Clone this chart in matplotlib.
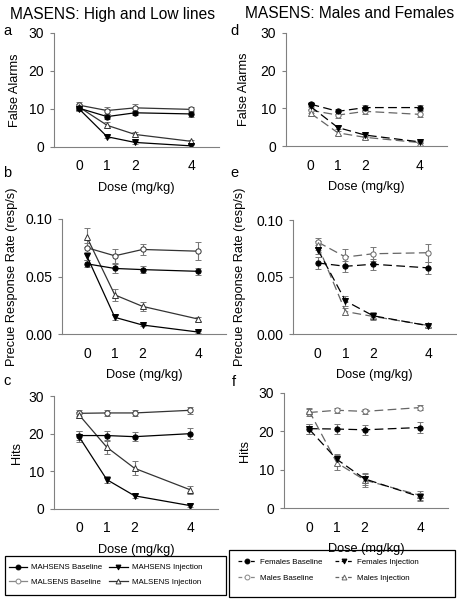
import matplotlib
matplotlib.use("Agg")
import matplotlib.pyplot as plt
from matplotlib.lines import Line2D
from matplotlib.patches import Rectangle

plt.rcParams['font.family'] = ['Liberation Sans', 'DejaVu Sans']

dose = [0, 1, 2, 4]

# left column: high and low lines
fa_hi_base = [10.2, 8.0, 9.0, 8.7]
fa_hi_inj = [10.0, 2.7, 1.2, 0.3]
fa_lo_base = [11.0, 9.6, 10.3, 9.9]
fa_lo_inj = [10.5, 5.7, 3.3, 1.5]
fa_hi_base_err = [0.6, 0.7, 0.6, 0.7]
fa_hi_inj_err = [0.6, 0.4, 0.3, 0.2]
fa_lo_base_err = [0.8, 0.8, 0.9, 0.7]
fa_lo_inj_err = [0.7, 0.8, 0.6, 0.4]

pr_hi_base = [0.061, 0.057, 0.056, 0.0545]
pr_hi_inj = [0.0675, 0.0145, 0.0078, 0.0017]
pr_lo_base = [0.075, 0.068, 0.0735, 0.072]
pr_lo_inj = [0.084, 0.034, 0.024, 0.013]
pr_hi_base_err = [0.003, 0.004, 0.003, 0.003]
pr_hi_inj_err = [0.003, 0.002, 0.001, 0.001]
pr_lo_base_err = [0.004, 0.006, 0.005, 0.008]
pr_lo_inj_err = [0.008, 0.005, 0.004, 0.002]

hit_hi_base = [19.5, 19.5, 19.2, 20.0]
hit_hi_inj = [19.2, 7.8, 3.5, 0.9]
hit_lo_base = [25.4, 25.5, 25.5, 26.2]
hit_lo_inj = [25.0, 16.4, 10.8, 5.1]
hit_hi_base_err = [1.3, 1.3, 1.2, 1.4]
hit_hi_inj_err = [1.4, 1.0, 0.6, 0.4]
hit_lo_base_err = [0.8, 0.9, 0.8, 0.9]
hit_lo_inj_err = [0.8, 1.7, 1.9, 1.0]

# right column: males and females
fa_f_base = [11.1, 9.2, 10.2, 10.2]
fa_f_inj = [10.5, 4.9, 2.9, 1.1]
fa_m_base = [9.5, 8.2, 9.2, 8.4]
fa_m_inj = [8.7, 3.5, 2.3, 0.9]
fa_f_base_err = [0.6, 0.6, 0.6, 0.7]
fa_f_inj_err = [0.6, 0.5, 0.4, 0.2]
fa_m_base_err = [0.8, 0.8, 0.8, 0.8]
fa_m_inj_err = [0.8, 0.6, 0.4, 0.2]

pr_f_base = [0.0623, 0.0594, 0.0612, 0.058]
pr_f_inj = [0.0739, 0.029, 0.016, 0.0072]
pr_m_base = [0.0806, 0.0675, 0.0704, 0.0713]
pr_m_inj = [0.0777, 0.0197, 0.0154, 0.0075]
pr_f_base_err = [0.005, 0.005, 0.005, 0.005]
pr_f_inj_err = [0.004, 0.004, 0.003, 0.001]
pr_m_base_err = [0.004, 0.007, 0.006, 0.008]
pr_m_inj_err = [0.004, 0.003, 0.003, 0.001]

hit_f_base = [20.7, 20.6, 20.4, 21.0]
hit_f_inj = [20.6, 12.7, 7.6, 2.9]
hit_m_base = [24.9, 25.5, 25.2, 26.2]
hit_m_inj = [25.4, 11.8, 7.3, 3.3]
hit_f_base_err = [1.3, 1.3, 1.3, 1.5]
hit_f_inj_err = [1.3, 1.5, 1.5, 1.0]
hit_m_base_err = [0.8, 0.7, 0.7, 0.7]
hit_m_inj_err = [0.8, 1.9, 1.7, 1.2]

W, H = 457, 600
fig = plt.figure(figsize=(W / 100, H / 100), dpi=100)


def add_ax(left, right, top, bottom):
    ax = fig.add_axes([left / W, 1 - bottom / H, (right - left) / W, (bottom - top) / H])
    ax._px = (left, right, top, bottom)
    return ax


def style(ax, ylim, yticks, yfmt, ylabel, ylab_x):
    left, right, top, bottom = ax._px
    ax.set_xlim(-0.9, 5.0)
    ax.set_ylim(*ylim)
    ax.set_xticks(dose)
    ax.set_yticks(yticks)
    ax.set_yticklabels([yfmt.format(v) for v in yticks])
    for s in ['top', 'right']:
        ax.spines[s].set_visible(False)
    for s in ['left', 'bottom']:
        ax.spines[s].set_color('#808080')
        ax.spines[s].set_linewidth(0.8)
    ax.tick_params(axis='x', length=0, labelsize=10, pad=9)
    ax.tick_params(axis='y', length=3, color='#808080', labelsize=10, pad=4)
    ax.set_xlabel('Dose (mg/kg)', fontsize=9.2, labelpad=6)
    ax.set_ylabel(ylabel, fontsize=9.2)
    ax.yaxis.set_label_coords((ylab_x - left) / (right - left), 0.5)
    ax.patch.set_visible(False)


def series_l(ax, y, err, marker, filled, color):
    face = color if filled else 'white'
    ax.errorbar(dose, y, yerr=err, color=color, ls='-', lw=0.9, marker=marker,
                ms=3.8, mfc=face, mec=color, mew=0.7, ecolor='#777777',
                elinewidth=0.8, capsize=2.2, capthick=0.8)


def series_r(ax, y, err, marker, filled, color):
    face = color if filled else 'white'
    ax.errorbar(dose, y, yerr=err, color=color, ls=(0, (7, 3.5)), lw=0.9, marker=marker,
                ms=3.8, mfc=face, mec=color, mew=0.7, ecolor='#777777',
                elinewidth=0.8, capsize=2.2, capthick=0.8)


dark = 'black'
grey = '#666666'
lo = '#333333'

# panel a
ax = add_ax(54, 219, 33, 147)
series_l(ax, fa_lo_base, fa_lo_base_err, 'o', False, lo)
series_l(ax, fa_lo_inj, fa_lo_inj_err, '^', False, lo)
series_l(ax, fa_hi_base, fa_hi_base_err, 'o', True, dark)
series_l(ax, fa_hi_inj, fa_hi_inj_err, 'v', True, dark)
style(ax, (0, 30), [0, 10, 20, 30], '{:.0f}', 'False Alarms', 21)

# panel b
ax = add_ax(62, 226, 219, 334)
series_l(ax, pr_lo_base, pr_lo_base_err, 'o', False, lo)
series_l(ax, pr_lo_inj, pr_lo_inj_err, '^', False, lo)
series_l(ax, pr_hi_base, pr_hi_base_err, 'o', True, dark)
series_l(ax, pr_hi_inj, pr_hi_inj_err, 'v', True, dark)
style(ax, (0, 0.10), [0.0, 0.05, 0.10], '{:.2f}', 'Precue Response Rate (resp/s)', 18)

# panel c
ax = add_ax(54, 218, 396, 509)
series_l(ax, hit_lo_base, hit_lo_base_err, 'o', False, lo)
series_l(ax, hit_lo_inj, hit_lo_inj_err, '^', False, lo)
series_l(ax, hit_hi_base, hit_hi_base_err, 'o', True, dark)
series_l(ax, hit_hi_inj, hit_hi_inj_err, 'v', True, dark)
style(ax, (0, 30), [0, 10, 20, 30], '{:.0f}', 'Hits', 23)

# panel d
ax = add_ax(286, 447, 33, 146)
series_r(ax, fa_m_base, fa_m_base_err, 'o', False, grey)
series_r(ax, fa_m_inj, fa_m_inj_err, '^', False, grey)
series_r(ax, fa_f_base, fa_f_base_err, 'o', True, dark)
series_r(ax, fa_f_inj, fa_f_inj_err, 'v', True, dark)
style(ax, (0, 30), [0, 10, 20, 30], '{:.0f}', 'False Alarms', 250)

# panel e
ax = add_ax(293, 456, 220, 334)
series_r(ax, pr_m_base, pr_m_base_err, 'o', False, grey)
series_r(ax, pr_m_inj, pr_m_inj_err, '^', False, grey)
series_r(ax, pr_f_base, pr_f_base_err, 'o', True, dark)
series_r(ax, pr_f_inj, pr_f_inj_err, 'v', True, dark)
style(ax, (0, 0.10), [0.0, 0.05, 0.10], '{:.2f}', 'Precue Response Rate (resp/s)', 246)

# panel f
ax = add_ax(284, 448, 393, 508)
series_r(ax, hit_m_base, hit_m_base_err, 'o', False, grey)
series_r(ax, hit_m_inj, hit_m_inj_err, '^', False, grey)
series_r(ax, hit_f_base, hit_f_base_err, 'o', True, dark)
series_r(ax, hit_f_inj, hit_f_inj_err, 'v', True, dark)
style(ax, (0, 30), [0, 10, 20, 30], '{:.0f}', 'Hits', 251)

# titles and panel letters
fig.text(113 / W, 1 - 14 / H, 'MASENS: High and Low lines', fontsize=11.2, ha='center', va='center')
fig.text(350 / W, 1 - 14 / H, 'MASENS: Males and Females', fontsize=11.2, ha='center', va='center')
for lab, x, y in [('a', 7, 31), ('b', 7, 173), ('c', 7, 381),
                  ('d', 234, 31), ('e', 234, 173), ('f', 234, 382)]:
    fig.text(x / W, 1 - y / H, lab, fontsize=10.5, ha='center', va='center')


# legends
def handle(marker, filled, color, ls):
    return Line2D([], [], color=color, ls=ls, lw=0.9, marker=marker, ms=3.5,
                  mfc=color if filled else 'white', mec=color, mew=0.7)


def box(x0, x1, y0, y1):
    fig.patches.append(Rectangle((x0 / W, 1 - y1 / H), (x1 - x0) / W, (y1 - y0) / H,
                                 transform=fig.transFigure, fill=False,
                                 edgecolor='black', lw=0.9))


h_left = [handle('o', True, dark, '-'), handle('o', False, '#888888', '-'),
          handle('v', True, dark, '-'), handle('^', False, lo, '-')]
l_left = ['MAHSENS Baseline', 'MALSENS Baseline', 'MAHSENS Injection', 'MALSENS Injection']
fig.legend(h_left, l_left, ncol=2, fontsize=5.7, frameon=False,
           loc='center left', bbox_to_anchor=(5 / W, 1 - 575 / H), handlelength=2.3,
           columnspacing=0.9, handletextpad=0.5, borderpad=0.0, labelspacing=0.9)
box(5, 226, 556, 595)

h_right = [handle('o', True, dark, (0, (3, 2))), handle('o', False, '#888888', (0, (3, 2))),
           handle('v', True, dark, (0, (3, 2))), handle('^', False, grey, (0, (3, 2)))]
l_right = ['Females Baseline', 'Males Baseline', 'Females Injection', 'Males Injection']
fig.legend(h_right, l_right, ncol=2, fontsize=5.7, frameon=False,
           loc='center left', bbox_to_anchor=(234 / W, 1 - 570 / H), handlelength=2.3,
           columnspacing=1.6, handletextpad=0.5, borderpad=0.0, labelspacing=1.1)
box(229, 455, 550, 597)

fig.savefig('out.png', dpi=100)
